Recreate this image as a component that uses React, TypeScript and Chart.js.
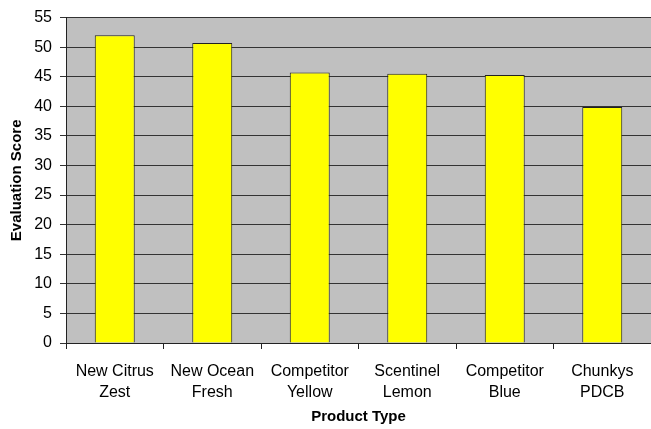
import React, { useEffect, useRef } from "react";
import { Chart, registerables } from "chart.js";

Chart.register(...registerables);

const categories: string[][] = [
  ["New Citrus", "Zest"],
  ["New Ocean", "Fresh"],
  ["Competitor", "Yellow"],
  ["Scentinel", "Lemon"],
  ["Competitor", "Blue"],
  ["Chunkys", "PDCB"],
];
const scores: number[] = [52.0, 50.7, 45.7, 45.5, 45.3, 39.9];
const yMin = 0;
const yMax = 55;
const yStep = 5;

const plotBg = {
  id: "plotBg",
  beforeDraw(chart: any) {
    const { ctx, chartArea } = chart;
    if (!chartArea) return;
    ctx.save();
    ctx.fillStyle = "#C0C0C0";
    ctx.fillRect(chartArea.left, chartArea.top, chartArea.right - chartArea.left, chartArea.bottom - chartArea.top);
    ctx.restore();
  },
};

export default function App() {
  const ref = useRef<HTMLCanvasElement | null>(null);
  useEffect(() => {
    if (!ref.current) return;
    const font = "'Liberation Sans', Arial, sans-serif";
    const chart = new Chart(ref.current, {
      type: "bar",
      data: {
        labels: categories,
        datasets: [
          {
            data: scores,
            backgroundColor: "#FFFF00",
            borderColor: "#222222",
            borderWidth: 1,
            barPercentage: 0.41,
            categoryPercentage: 1,
          },
        ],
      },
      plugins: [plotBg],
      options: {
        animation: false,
        responsive: false,
        devicePixelRatio: 1,
        layout: { padding: { top: 13, right: 0, left: 0, bottom: 0 } },
        plugins: { legend: { display: false }, tooltip: { enabled: false } },
        scales: {
          x: {
            grid: {
              offset: true,
              drawOnChartArea: false,
              drawTicks: true,
              tickLength: 6,
              color: "#222222",
            },
            border: { color: "#222222", width: 1 },
            ticks: {
              color: "#000",
              font: { family: font, size: 16, lineHeight: 1.3 },
              padding: 12,
              maxRotation: 0,
              autoSkip: false,
            },
            title: {
              display: true,
              text: "Product Type",
              color: "#000",
              font: { family: font, size: 15, weight: "bold", lineHeight: 1.2 },
              padding: { top: 0, bottom: 3 },
            },
            afterFit(scale: any) {
              scale.height = 86;
            },
          },
          y: {
            min: yMin,
            max: yMax,
            ticks: {
              stepSize: yStep,
              color: "#000",
              font: { family: font, size: 16 },
              padding: 8,
            },
            grid: { color: "#333333", lineWidth: 1, tickLength: 6 },
            border: { color: "#222222", width: 1 },
            title: {
              display: true,
              text: "Evaluation Score",
              color: "#000",
              font: { family: font, size: 15, weight: "bold", lineHeight: 1.2 },
              padding: { top: 8, bottom: 0 },
            },
            afterFit(scale: any) {
              scale.width = 66;
            },
          },
        },
      },
    });
    return () => chart.destroy();
  }, []);
  return (
    <div style={{ position: "fixed", left: 0, top: 0, width: 651, height: 429, background: "#fff" }}>
      <canvas ref={ref} width={651} height={429} style={{ width: 651, height: 429 }} />
    </div>
  );
}
